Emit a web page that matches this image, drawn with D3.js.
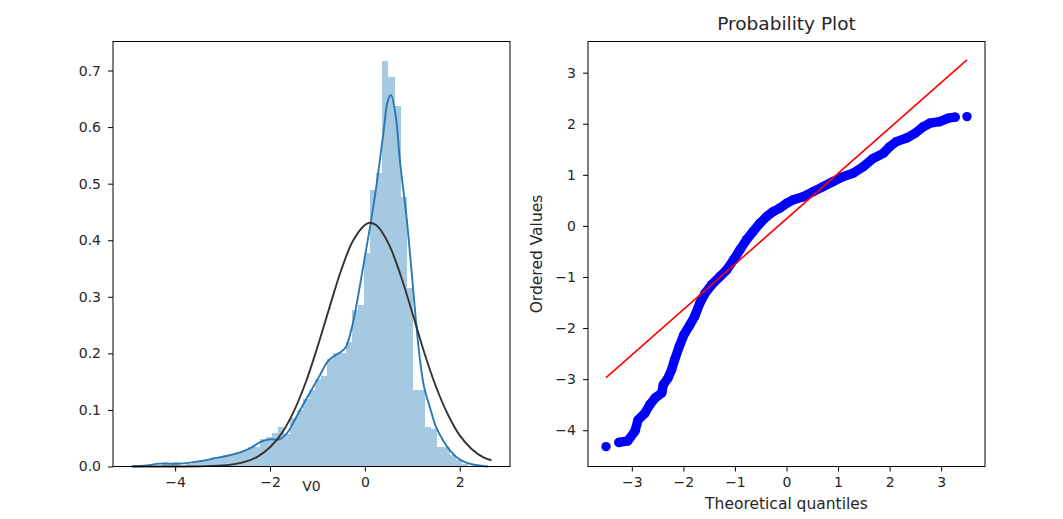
<!DOCTYPE html>
<html>
<head>
<meta charset="utf-8">
<script src="https://cdn.jsdelivr.net/npm/d3@7"></script>
<style>
  body { margin: 0; background: #fff; }
  svg text { font-family: "DejaVu Sans", sans-serif; fill: #262626; }
</style>
</head>
<body>
<div class="plot"></div>
<script>
// histogram of V0 (density), 50 bins
const histStart = -4.28,
    histWidth = 0.1291;
const histDensity = [0.008, 0.004, 0.008, 0.0, 0.004, 0.008, 0.012, 0.012, 0.016, 0.016,
    0.02, 0.02, 0.025, 0.028, 0.035, 0.035, 0.048, 0.052, 0.06, 0.07,
    0.058, 0.085, 0.10, 0.12, 0.135, 0.155, 0.16, 0.19, 0.20, 0.20,
    0.22, 0.276, 0.285, 0.377, 0.488, 0.518, 0.716, 0.688, 0.638, 0.477,
    0.315, 0.135, 0.135, 0.07, 0.067, 0.035, 0.034, 0.02, 0.011, 0.005];

// kde curve
const kdeX = [-4.92, -4.6, -4.32, -3.89, -3.5, -3.19, -2.9, -2.63, -2.4, -2.21, -2.0, -1.8, -1.65,
    -1.46, -1.25, -0.97, -0.76, -0.55, -0.41, -0.27, -0.06, 0.11, 0.25, 0.39, 0.48, 0.55, 0.65,
    0.74, 0.88, 0.99, 1.08, 1.16, 1.25, 1.37, 1.5, 1.65, 1.8, 1.94, 2.1, 2.25, 2.6];
const kdeY = [0, 0.002, 0.005, 0.005, 0.009, 0.014, 0.019, 0.025, 0.033, 0.043, 0.048, 0.048, 0.058,
    0.085, 0.117, 0.158, 0.188, 0.2, 0.21, 0.247, 0.341, 0.424, 0.50, 0.589, 0.645, 0.657, 0.62,
    0.54, 0.44, 0.34, 0.255, 0.19, 0.14, 0.105, 0.07, 0.046, 0.028, 0.016, 0.008, 0.004, 0.0];

// fitted normal curve
const normX = [-4.9, -4.5, -4.0, -3.5, -3.0, -2.75, -2.5, -2.25, -2.0, -1.75, -1.5, -1.25, -1.0,
    -0.75, -0.5, -0.25, 0.0, 0.1, 0.25, 0.5, 0.75, 1.0, 1.25, 1.5, 1.75, 2.0, 2.25, 2.5, 2.67];
const normY = [0.0, 0.0, 0.0001, 0.0003, 0.0019, 0.0042, 0.009, 0.018, 0.034, 0.059, 0.097, 0.148, 0.211,
    0.28, 0.347, 0.399, 0.427, 0.431, 0.426, 0.394, 0.339, 0.272, 0.202, 0.141, 0.092, 0.055, 0.031, 0.016, 0.011];

// probability plot
const qqTheo = [-3.5, -3.25, -3.08, -2.94, -2.88, -2.75, -2.65, -2.55, -2.42, -2.39, -2.30, -2.23,
    -2.17, -2.08, -1.99, -1.875, -1.78, -1.68, -1.58, -1.45, -1.29, -1.16, -1.03, -0.905, -0.776,
    -0.647, -0.517, -0.388, -0.259, -0.129, 0, 0.129, 0.323, 0.517, 0.711, 0.905, 1.10, 1.29, 1.49,
    1.68, 1.875, 2.0, 2.13, 2.33, 2.49, 2.65, 2.78, 2.97, 3.14, 3.27, 3.5];
const qqOrdered = [-4.32, -4.24, -4.21, -4.02, -3.80, -3.67, -3.50, -3.37, -3.27, -3.11, -2.98, -2.82,
    -2.62, -2.36, -2.13, -1.94, -1.77, -1.51, -1.32, -1.15, -0.99, -0.86, -0.67, -0.47, -0.27,
    -0.11, 0.05, 0.18, 0.28, 0.35, 0.44, 0.51, 0.57, 0.67, 0.77, 0.87, 0.965, 1.03, 1.16,
    1.32, 1.42, 1.55, 1.65, 1.72, 1.81, 1.94, 2.01, 2.04, 2.11, 2.13, 2.14];
const fitX = [-3.5, 3.5],
    fitY = [-2.97, 3.25];

const leftTicksX = [-4, -2, 0, 2],
    leftTicksY = [0, 0.1, 0.2, 0.3, 0.4, 0.5, 0.6, 0.7],
    rightTicksX = [-3, -2, -1, 0, 1, 2, 3],
    rightTicksY = [-4, -3, -2, -1, 0, 1, 2, 3];

const width = 1063,
    height = 519,
    plotTop = 41.5,
    plotBottom = 466.5;

const svg = d3.select(".plot").append("svg")
    .attr("width", width)
    .attr("height", height);

svg.append("rect").attr("width", width).attr("height", height).attr("fill", "#fff");

function drawAxes(g, x, y, tx, ty, fmtY) {
    g.append("g")
        .attr("transform", "translate(0," + plotBottom + ")")
        .call(d3.axisBottom(x).tickValues(tx).tickSize(5).tickPadding(6).tickFormat(d3.format("")));
    g.append("g")
        .attr("transform", "translate(" + x.range()[0] + ",0)")
        .call(d3.axisLeft(y).tickValues(ty).tickSize(5).tickPadding(7).tickFormat(fmtY));
    g.selectAll(".domain").remove();
    g.selectAll(".tick line").attr("stroke", "#000").attr("stroke-width", 1);
    g.selectAll(".tick text").style("font-size", "14px").attr("fill", "#262626");
    // frame
    g.append("rect")
        .attr("x", x.range()[0])
        .attr("y", plotTop)
        .attr("width", x.range()[1] - x.range()[0])
        .attr("height", plotBottom - plotTop)
        .attr("fill", "none")
        .attr("stroke", "#000")
        .attr("stroke-width", 1);
}

// ---- left: distribution ----
const xL = d3.scaleLinear().domain([-5.31, 3.06]).range([113, 510]);
const yL = d3.scaleLinear().domain([0, 0.7513]).range([plotBottom, plotTop]);
const left = svg.append("g");

left.append("g").selectAll("rect")
    .data(histDensity)
    .enter()
    .append("rect")
    .attr("x", function(d, i) { return xL(histStart + i * histWidth); })
    .attr("width", function(d, i) { return xL(histStart + (i + 1) * histWidth) - xL(histStart + i * histWidth); })
    .attr("y", function(d) { return yL(d); })
    .attr("height", function(d) { return yL(0) - yL(d); })
    .attr("shape-rendering", "crispEdges")
    .attr("fill", "#a5c9e1");

const kdeLine = d3.line()
    .x(function(d, i) { return xL(kdeX[i]); })
    .y(function(d) { return yL(d); })
    .curve(d3.curveCatmullRom);
left.append("path")
    .attr("d", kdeLine(kdeY))
    .attr("fill", "none")
    .attr("stroke", "#2a78b4")
    .attr("stroke-width", 1.9);

const normLine = d3.line()
    .x(function(d, i) { return xL(normX[i]); })
    .y(function(d) { return yL(d); })
    .curve(d3.curveCatmullRom);
left.append("path")
    .attr("d", normLine(normY))
    .attr("fill", "none")
    .attr("stroke", "#333")
    .attr("stroke-width", 1.9);

drawAxes(left, xL, yL, leftTicksX, leftTicksY, d3.format(".1f"));

left.append("text")
    .attr("x", (113 + 510) / 2)
    .attr("y", 481)
    .attr("text-anchor", "middle")
    .attr("dominant-baseline", "hanging")
    .style("font-size", "14px")
    .text("V0");

// ---- right: probability plot ----
const xR = d3.scaleLinear().domain([-3.85, 3.85]).range([588, 985]);
const yR = d3.scaleLinear().domain([-4.71, 3.61]).range([plotBottom, plotTop]);
const right = svg.append("g");

// dense part of the ordered values drawn as a band of overlapping markers
const band = d3.line()
    .x(function(d, i) { return xR(qqTheo[i + 1]); })
    .y(function(d) { return yR(d); });
right.append("path")
    .attr("d", band(qqOrdered.slice(1, qqOrdered.length - 1)))
    .attr("fill", "none")
    .attr("stroke", "#0000ff")
    .attr("stroke-width", 9.4)
    .attr("stroke-linejoin", "round")
    .attr("stroke-linecap", "round");

right.append("g").selectAll("circle")
    .data(qqOrdered)
    .enter()
    .append("circle")
    .attr("cx", function(d, i) { return xR(qqTheo[i]); })
    .attr("cy", function(d) { return yR(d); })
    .attr("r", 4.7)
    .attr("fill", "#0000ff");

right.append("line")
    .attr("x1", xR(fitX[0])).attr("y1", yR(fitY[0]))
    .attr("x2", xR(fitX[1])).attr("y2", yR(fitY[1]))
    .attr("stroke", "#ff0000")
    .attr("stroke-width", 1.6);

drawAxes(right, xR, yR, rightTicksX, rightTicksY, d3.format(""));

right.append("text")
    .attr("x", (588 + 985) / 2)
    .attr("y", 25)
    .attr("text-anchor", "middle")
    .attr("dominant-baseline", "middle")
    .style("font-size", "18.5px")
    .text("Probability Plot");

right.append("text")
    .attr("x", (588 + 985) / 2)
    .attr("y", 498)
    .attr("text-anchor", "middle")
    .attr("dominant-baseline", "hanging")
    .style("font-size", "15.5px")
    .text("Theoretical quantiles");

right.append("text")
    .attr("transform", "translate(537," + (plotTop + plotBottom) / 2 + ") rotate(-90)")
    .attr("text-anchor", "middle")
    .attr("dominant-baseline", "middle")
    .style("font-size", "15.5px")
    .text("Ordered Values");
</script>
</body>
</html>
